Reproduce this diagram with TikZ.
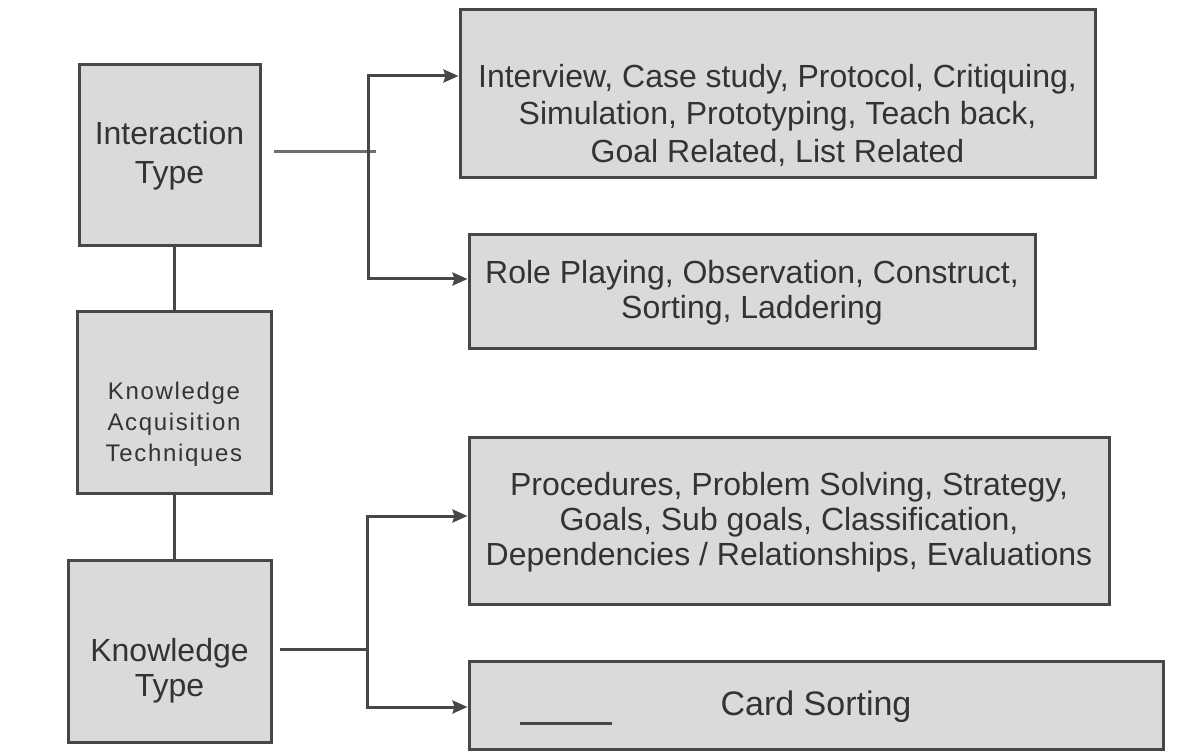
\documentclass[tikz,border=0pt]{standalone}
\usepackage{fontspec}
\setmainfont{Liberation Sans}
\newfontfamily\widefont[LetterSpace=7]{Liberation Sans}
\usetikzlibrary{arrows.meta}
\definecolor{boxfill}{HTML}{DADADC}
\definecolor{boxline}{HTML}{474747}
\definecolor{inktext}{HTML}{333333}
\definecolor{stubline}{HTML}{6E6E6E}
\tikzset{
  box/.style={draw=boxline, fill=boxfill, line width=3pt, inner sep=0pt},
  txt/.style={align=center, text=inktext, inner sep=0pt,
              font=\fontsize{32}{37}\selectfont},
  conn/.style={draw=boxline, line width=3pt},
  arr/.style={conn, {Stealth[length=15pt,width=13pt,inset=2pt]}-{Stealth[length=15pt,width=13pt,inset=2pt]}},
}
\begin{document}
\begin{tikzpicture}[x=1pt,y=-1pt]
\useasboundingbox (0,0) rectangle (1202,751);

% left column
\node[box, minimum width=181, minimum height=181] (it) at (169.5,155.5) {};
\node[box, minimum width=194, minimum height=181] (kat) at (174,402.5) {};
\node[box, minimum width=203, minimum height=182] (kt) at (169.5,651) {};

\node[txt, font=\fontsize{32}{39}\selectfont] (it-t) at (it.center) {Interaction\\Type};
\node[txt, font=\widefont\fontsize{24}{31}\selectfont] (kat-t) at ([yshift=-22pt]kat.center)
  {Knowledge\\Acquisition\\Techniques};
\node[txt, font=\fontsize{32}{35}\selectfont] (kt-t) at ([yshift=-20pt]kt.center) {Knowledge\\Type};

% right column
\node[box, minimum width=635, minimum height=168] (b1) at (777.5,94) {};
\node[box, minimum width=566, minimum height=113] (b2) at (752,291.5) {};
\node[box, minimum width=640, minimum height=167] (b3) at (789,520.5) {};
\node[box, minimum width=694, minimum height=88] (b4) at (816,705) {};

\node[txt, font=\fontsize{32}{37.5}\selectfont] (b1-t) at ([yshift=-21pt]b1.center)
  {Interview, Case study, Protocol, Critiquing,\\Simulation, Prototyping, Teach back,\\Goal Related, List Related};
\node[txt, font=\fontsize{32}{35}\selectfont] (b2-t) at ([yshift=-1pt]b2.center)
  {Role Playing, Observation, Construct,\\Sorting, Laddering};
\node[txt, font=\fontsize{32}{35}\selectfont] (b3-t) at ([yshift=-2pt]b3.center)
  {Procedures, Problem Solving, Strategy,\\Goals, Sub goals, Classification,\\Dependencies / Relationships, Evaluations};
\node[txt, font=\fontsize{34}{38}\selectfont] (b4-t) at ([yshift=-2pt]b4.center) {Card Sorting};
\draw[conn] ([shift={(-296pt,-18pt)}]b4.center) -- ++(92,0);

% vertical links in the left column
\draw[conn] (kat.north) -- (kat.north |- it.south);
\draw[conn] (kat.south) -- (kat.south |- kt.north);

% interaction type branches
\coordinate (j1) at (368,152);
\coordinate (t1) at ([yshift=18pt]b1.west);
\coordinate (t2) at ([yshift=12.5pt]b2.west);
\draw[line width=3pt, stubline] ([xshift=12pt]it.east |- j1) -- ([xshift=8pt]j1);
\draw[arr] (t1) -| (j1) |- (t2);

% knowledge type branches
\coordinate (j2) at (367,649);
\coordinate (t3) at ([yshift=4.5pt]b3.west);
\coordinate (t4) at ([yshift=-2pt]b4.west);
\draw[conn] ([xshift=7pt]kt.east |- j2) -- (j2);
\draw[arr] (t3) -| (j2) |- (t4);
\end{tikzpicture}
\end{document}
